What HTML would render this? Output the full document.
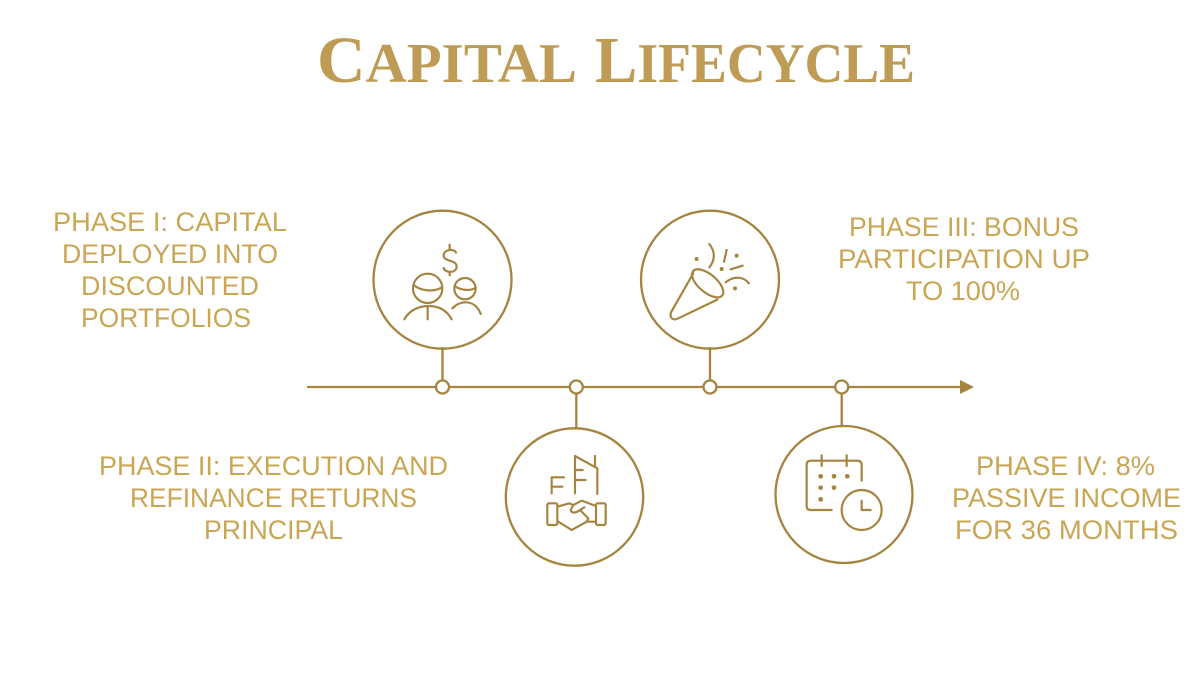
<!DOCTYPE html>
<html><head><meta charset="utf-8"><style>
html,body{margin:0;padding:0;background:#fff;width:1200px;height:674px;overflow:hidden}
svg{display:block}
.t{font-family:"Liberation Sans",sans-serif;font-size:27px;fill:#c9a654}
.h{font-family:"Liberation Serif",serif;font-weight:700;fill:#bf9c55}
.l{fill:none;stroke:#a5843f;stroke-width:2.3;stroke-linecap:round;stroke-linejoin:round}
.i{fill:none;stroke:#a5843f;stroke-width:6.5;stroke-linecap:round;stroke-linejoin:round}
.d{fill:#a5843f;stroke:none}
</style></head><body>
<svg width="1200" height="674" viewBox="0 0 1200 674" xmlns="http://www.w3.org/2000/svg">
<rect width="1200" height="674" fill="#fff"/>
<text class="h" x="317" y="82" textLength="260" lengthAdjust="spacingAndGlyphs"><tspan font-size="66">C</tspan><tspan font-size="56">APITAL</tspan></text>
<text class="h" x="595" y="82" textLength="320" lengthAdjust="spacingAndGlyphs"><tspan font-size="66">L</tspan><tspan font-size="56">IFECYCLE</tspan></text>

<text class="t" x="53" y="231" textLength="234" lengthAdjust="spacingAndGlyphs">PHASE I: CAPITAL</text>
<text class="t" x="62" y="263" textLength="216" lengthAdjust="spacingAndGlyphs">DEPLOYED INTO</text>
<text class="t" x="81" y="295" textLength="178" lengthAdjust="spacingAndGlyphs">DISCOUNTED</text>
<text class="t" x="81" y="327" textLength="170" lengthAdjust="spacingAndGlyphs">PORTFOLIOS</text>

<text class="t" x="99" y="475" textLength="349" lengthAdjust="spacingAndGlyphs">PHASE II: EXECUTION AND</text>
<text class="t" x="130" y="507" textLength="287" lengthAdjust="spacingAndGlyphs">REFINANCE RETURNS</text>
<text class="t" x="204" y="539" textLength="139" lengthAdjust="spacingAndGlyphs">PRINCIPAL</text>

<text class="t" x="849" y="236" textLength="230" lengthAdjust="spacingAndGlyphs">PHASE III: BONUS</text>
<text class="t" x="838" y="268" textLength="252" lengthAdjust="spacingAndGlyphs">PARTICIPATION UP</text>
<text class="t" x="906" y="300" textLength="114" lengthAdjust="spacingAndGlyphs">TO 100%</text>

<text class="t" x="976" y="475" textLength="179" lengthAdjust="spacingAndGlyphs">PHASE IV: 8%</text>
<text class="t" x="952" y="507" textLength="229" lengthAdjust="spacingAndGlyphs">PASSIVE INCOME</text>
<text class="t" x="955" y="539" textLength="223" lengthAdjust="spacingAndGlyphs">FOR 36 MONTHS</text>

<!-- timeline -->
<line class="l" x1="308" y1="387" x2="962" y2="387"/>
<path d="M960 380 L974 387 L960 394 Z" fill="#a5843f"/>
<line class="l" x1="442.5" y1="348" x2="442.5" y2="387"/>
<line class="l" x1="576.3" y1="387" x2="576.3" y2="428"/>
<line class="l" x1="710" y1="348" x2="710" y2="387"/>
<line class="l" x1="841.7" y1="387" x2="841.7" y2="426"/>
<circle class="l" cx="442.5" cy="279.7" r="69"/>
<circle class="l" cx="574.5" cy="497" r="68.7"/>
<circle class="l" cx="710" cy="279.7" r="69"/>
<circle class="l" cx="844" cy="494.5" r="68.5"/>
<g fill="#fff" stroke="#a5843f" stroke-width="2.3">
<circle cx="442.5" cy="387" r="6.5"/>
<circle cx="576.3" cy="387" r="6.5"/>
<circle cx="710" cy="387" r="6.5"/>
<circle cx="841.7" cy="387" r="6.5"/>
</g>

<!-- icon 1 -->
<g transform="translate(360,200) scale(0.3333)">
<g class="i">
<path d="M288 158 C284 146 252 146 251 166 C250 186 290 178 290 200 C290 220 256 220 251 204"/>
<line x1="269" y1="134" x2="269" y2="146"/>
<line x1="269" y1="216" x2="269" y2="226"/>
<circle cx="203" cy="265" r="44"/>
<path d="M160 254 C180 272 220 278 246 262"/>
<path d="M133 358 C150 328 180 318 205 318 C235 318 260 330 275 358"/>
<line x1="203" y1="320" x2="203" y2="358"/>
<circle cx="315" cy="266" r="32"/>
<path d="M284 258 C300 270 330 274 346 264"/>
<path d="M277 325 C290 312 302 307 316 307 C338 307 354 320 362 342"/>
</g>
</g>

<!-- icon 2 -->
<g transform="translate(490,380) scale(0.3333)">
<g class="i">
<path d="M185 340 V292 H222"/>
<line x1="185" y1="320" x2="217" y2="320"/>
<path d="M255 340 V228 L322 265 V342"/>
<line x1="315" y1="228" x2="315" y2="258"/>
<line x1="255" y1="270" x2="278" y2="270"/>
<line x1="255" y1="300" x2="287" y2="300"/>
</g>
</g>
<g transform="translate(540,490) scale(0.3333)">
<g class="i">
<rect x="22" y="40" width="30" height="65" rx="5"/>
<rect x="168" y="40" width="29" height="65" rx="5"/>
<path d="M52 50 L88 40 L100 45 L92 60 C95 72 110 68 120 60 L145 85 L140 95 L95 120 L55 95 H52"/>
<path d="M100 45 L125 32 L168 48"/>
<path d="M140 95 H168"/>
<path d="M120 60 L133 52"/>
</g>
</g>

<!-- icon 3 -->
<g transform="translate(630,200) scale(0.3333)">
<g class="i">
<ellipse cx="233" cy="250" rx="57" ry="27" transform="rotate(40 233 250)"/>
<path d="M190 220 L123 337 C118 355 130 363 145 355 L262 299"/>
<path d="M238 132 C256 155 256 180 238 202"/>
<line x1="290" y1="150" x2="282" y2="185"/>
<line x1="302" y1="208" x2="338" y2="197"/>
<path d="M287 247 C310 228 340 228 357 250"/>
</g>
<circle class="d" cx="200" cy="177" r="6"/>
<circle class="d" cx="320" cy="167" r="6"/>
<circle class="d" cx="275" cy="207" r="6"/>
<circle class="d" cx="315" cy="265" r="6"/>
</g>

<!-- icon 4 -->
<g transform="translate(760,370) scale(0.3333)">
<g class="i">
<path d="M215 420 H152 Q140 420 140 408 V285 Q140 272 152 272 H292 Q305 272 305 285 V332"/>
<line x1="185" y1="256" x2="185" y2="288"/>
<line x1="260" y1="256" x2="260" y2="288"/>
<circle cx="305" cy="420" r="60"/>
<path d="M305 392 V420 H332"/>
</g>
<circle class="d" cx="182" cy="319" r="7"/>
<circle class="d" cx="222" cy="319" r="7"/>
<circle class="d" cx="262" cy="319" r="7"/>
<circle class="d" cx="182" cy="353" r="7"/>
<circle class="d" cx="222" cy="353" r="7"/>
<circle class="d" cx="182" cy="388" r="7"/>
</g>
</svg>
</body></html>
